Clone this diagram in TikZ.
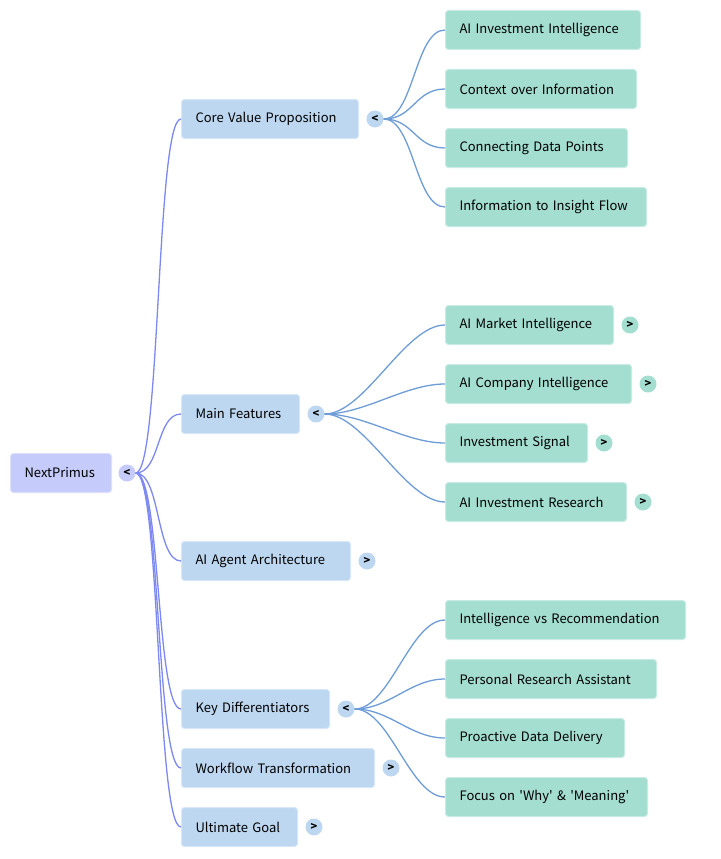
\documentclass[tikz,border=0pt]{standalone}
\usepackage{fontspec}
\setmainfont{Noto Sans CJK KR}
\definecolor{rootfill}{HTML}{C5CBFA}
\definecolor{topicfill}{HTML}{BDD7F1}
\definecolor{leaffill}{HTML}{A4DED1}
\definecolor{rootline}{HTML}{7D88F2}
\definecolor{topicline}{HTML}{6E9CD6}
\begin{document}
\begin{tikzpicture}[x=1pt,y=-1pt,
	box/.style={anchor=west, rounded corners=3pt, minimum height=39pt, inner xsep=14pt, inner ysep=0pt,
		align=left, line width=1pt, font=\fontsize{13}{15}\selectfont},
	root/.style={box, fill=rootfill, draw=rootfill!60!white},
	topic/.style={box, fill=topicfill, draw=topicfill!60!white},
	leaf/.style={box, fill=leaffill, draw=leaffill!60!white},
	tog/.style={circle, inner sep=0pt, minimum size=17pt, font=\fontsize{11}{11}\selectfont\bfseries},
	rootedge/.style={draw=rootline, line width=1.3pt},
	topicedge/.style={draw=topicline, line width=1.3pt}]
				\useasboundingbox (0,0) rectangle (720,859);
				%root with its toggle
				\node[root, text width=73pt] (np) at (10,473){NextPrimus};
				\node[tog, fill=rootfill] (npt) at (127,473){<};
				%%first level boxes placed by hand
				\node[topic, text width=149pt] (cvp) at (181,119){Core Value Proposition};
				\node[topic, text width=90pt] (mf) at (181,414){Main Features};
				\node[topic, text width=141pt] (aaa) at (181,561){AI Agent Architecture};
				\node[topic, text width=120pt] (kd) at (181,709){Key Differentiators};
				\node[topic, text width=165pt] (wt) at (181,768){Workflow Transformation};
				\node[topic, text width=88pt] (ug) at (181,827){Ultimate Goal};
				\node[tog, fill=topicfill] (cvpt) at (375,119){<};
				\node[tog, fill=topicfill] (mft) at (316,414){<};
				\node[tog, fill=topicfill] (aaat) at (367,561){>};
				\node[tog, fill=topicfill] (kdt) at (346,709){<};
				\node[tog, fill=topicfill] (wtt) at (391,768){>};
				\node[tog, fill=topicfill] (ugt) at (314,827){>};
				\foreach \t in {cvp, mf, aaa, kd, wt, ug}{
					\draw[rootedge] (npt.east) .. controls +(25,0) and +(-25,0) .. (\t.west);
					}
				%% second level boxes drawn with a loop
				\foreach \y/\w/\txt [count=\i] in {30/195/AI Investment Intelligence, 89/191/Context over Information,
					148/182/Connecting Data Points, 207/201/Information to Insight Flow}{
					\pgfmathsetmacro\tw{\w-28}
					\node[leaf, text width=\tw pt] (cvp\i) at (445,\y){\txt};
					\draw[topicedge] (cvpt.east) .. controls +(30,0) and +(-30,0) .. (cvp\i.west);
					}
				\foreach \y/\w/\tx/\txt [count=\i] in {325/168/630/AI Market Intelligence, 384/186/648/AI Company Intelligence,
					443/142/604/Investment Signal, 502/181/643/AI Investment Research}{
					\pgfmathsetmacro\tw{\w-28}
					\node[leaf, text width=\tw pt] (mf\i) at (445,\y){\txt};
					\node[tog, fill=leaffill] (mf\i t) at (\tx,\y){>};
					\draw[topicedge] (mft.east) .. controls +(40,0) and +(-40,0) .. (mf\i.west);
					}
				\foreach \y/\w/\txt [count=\i] in {620/240/Intelligence vs Recommendation, 679/211/Personal Research Assistant,
					738/179/Proactive Data Delivery, 797/202/Focus on \textquotesingle Why\textquotesingle\ \& \textquotesingle Meaning\textquotesingle}{
					\pgfmathsetmacro\tw{\w-28}
					\node[leaf, text width=\tw pt] (kd\i) at (445,\y){\txt};
					\draw[topicedge] (kdt.east) .. controls +(35,0) and +(-35,0) .. (kd\i.west);
					}
				\end{tikzpicture}
\end{document}
